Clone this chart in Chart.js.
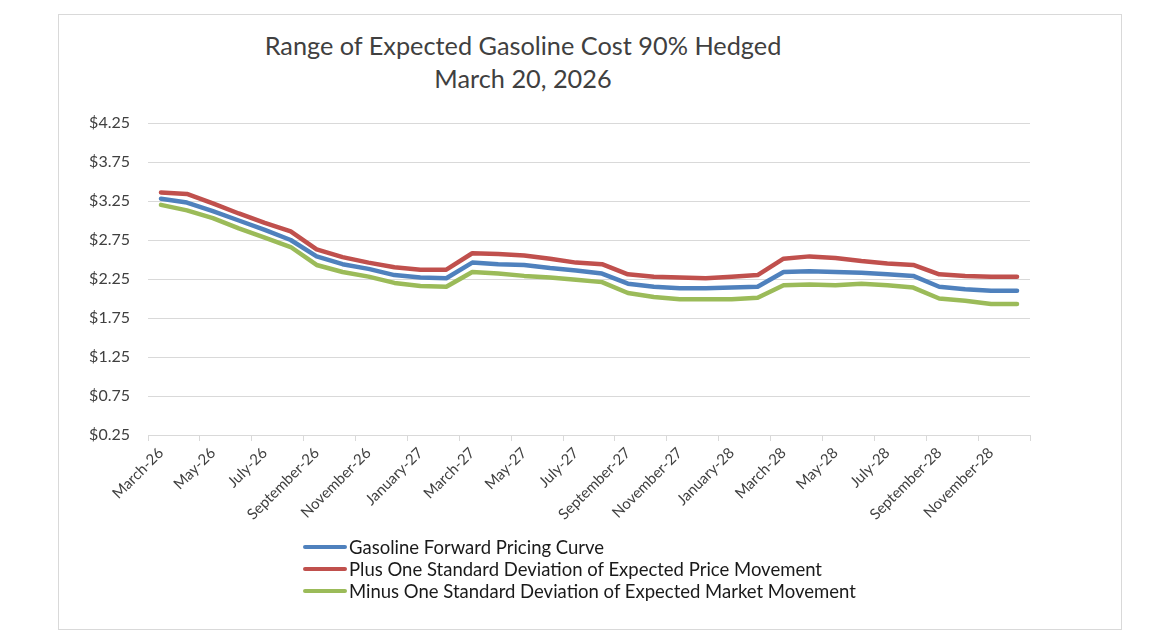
<!DOCTYPE html>
<html>
<head>
<meta charset="utf-8">
<title>Range of Expected Gasoline Cost</title>
<script src="https://cdn.jsdelivr.net/npm/chart.js"></script>
<style>
  * { margin: 0; padding: 0; box-sizing: border-box; }
  body { width: 1150px; height: 641px; background: #fff; font-family: Lato, "Open Sans", sans-serif; position: relative; overflow: hidden; }
  .frame { position: absolute; left: 58px; top: 14px; width: 1064px; height: 616px; border: 1px solid #d9d9d9; }
  .title { position: absolute; left: 173px; width: 700px; top: 29px; text-align: center; font-size: 25.3px; line-height: 33px; color: #404040; }
  #chart { position: absolute; left: 0; top: 0; }
  .legend { position: absolute; left: 303px; top: 536px; font-size: 18.5px; color: #1a1a1a; }
  .legend div { height: 22px; line-height: 22px; display: flex; align-items: center; }
  .legend span.swatch { display: inline-block; width: 44px; height: 4px; border-radius: 2px; margin-right: 2px; }
</style>
</head>
<body>
<div class="frame"></div>
<div class="title">Range of Expected Gasoline Cost 90% Hedged<br>March 20, 2026</div>
<canvas id="chart" width="1150" height="641"></canvas>
<div class="legend" id="legend"></div>
<script>
const months = [
  'March-26','April-26','May-26','June-26','July-26','August-26','September-26','October-26','November-26','December-26',
  'January-27','February-27','March-27','April-27','May-27','June-27','July-27','August-27','September-27','October-27','November-27','December-27',
  'January-28','February-28','March-28','April-28','May-28','June-28','July-28','August-28','September-28','October-28','November-28','December-28'
];
const forwardCurve = [3.28,3.23,3.12,3.00,2.88,2.75,2.54,2.44,2.38,2.30,2.27,2.26,2.46,2.44,2.43,2.39,2.36,2.32,2.19,2.15,2.13,2.13,2.14,2.15,2.34,2.35,2.34,2.33,2.31,2.29,2.15,2.12,2.10,2.10];
const plusOneSd = [3.36,3.34,3.22,3.09,2.97,2.86,2.63,2.53,2.46,2.40,2.37,2.37,2.58,2.57,2.55,2.51,2.46,2.44,2.31,2.28,2.27,2.26,2.28,2.30,2.51,2.54,2.52,2.48,2.45,2.43,2.31,2.29,2.28,2.28];
const minusOneSd = [3.20,3.13,3.03,2.90,2.78,2.66,2.43,2.34,2.28,2.20,2.16,2.15,2.34,2.32,2.29,2.27,2.24,2.21,2.07,2.02,1.99,1.99,1.99,2.01,2.17,2.18,2.17,2.19,2.17,2.14,2.00,1.97,1.93,1.93];
const yTicks = [0.25, 0.75, 1.25, 1.75, 2.25, 2.75, 3.25, 3.75, 4.25];

const font = "Lato, 'Open Sans', sans-serif";
const grey = '#d9d9d9';

const chart = new Chart(document.getElementById('chart'), {
  type: 'line',
  data: {
    labels: months,
    datasets: [
      { label: 'Gasoline Forward Pricing Curve', data: forwardCurve, borderColor: '#4f81bd' },
      { label: 'Plus One Standard Deviation of Expected Price Movement', data: plusOneSd, borderColor: '#c0504d' },
      { label: 'Minus One Standard Deviation of Expected Market Movement', data: minusOneSd, borderColor: '#9bbb59' }
    ]
  },
  options: {
    responsive: false,
    animation: false,
    devicePixelRatio: 1,
    elements: {
      line: { borderWidth: 4.5, tension: 0, borderCapStyle: 'round', borderJoinStyle: 'round', fill: false },
      point: { radius: 0 }
    },
    layout: { padding: { left: 0, top: 123, right: 120, bottom: 0 } },
    plugins: { legend: { display: false }, tooltip: { enabled: false } },
    scales: {
      x: {
        offset: true,
        afterFit: s => { s.height = 206; },
        grid: {
          offset: true, drawOnChartArea: false, drawTicks: true, tickLength: 6,
          color: c => (c.index === undefined || c.index % 2 === 0) ? grey : 'rgba(0,0,0,0)'
        },
        border: { display: true, color: grey },
        ticks: {
          autoSkip: false, minRotation: 45, maxRotation: 45, padding: 3,
          color: '#404040', font: { family: font, size: 15 },
          callback: function (v, i) { return i % 2 === 0 ? this.getLabelForValue(v) : ''; }
        }
      },
      y: {
        min: 0.25, max: 4.25,
        afterFit: s => { s.width = 148; },
        afterBuildTicks: s => { s.ticks = yTicks.map(v => ({ value: v })); },
        grid: { color: grey, drawTicks: false },
        border: { display: false },
        ticks: {
          padding: 18, color: '#404040', font: { family: font, size: 16 },
          callback: v => '$' + v.toFixed(2)
        }
      }
    }
  }
});

const legend = document.getElementById('legend');
chart.data.datasets.forEach(ds => {
  const row = document.createElement('div');
  const sw = document.createElement('span');
  sw.className = 'swatch';
  sw.style.background = ds.borderColor;
  row.appendChild(sw);
  row.appendChild(document.createTextNode(ds.label));
  legend.appendChild(row);
});
</script>
</body>
</html>
